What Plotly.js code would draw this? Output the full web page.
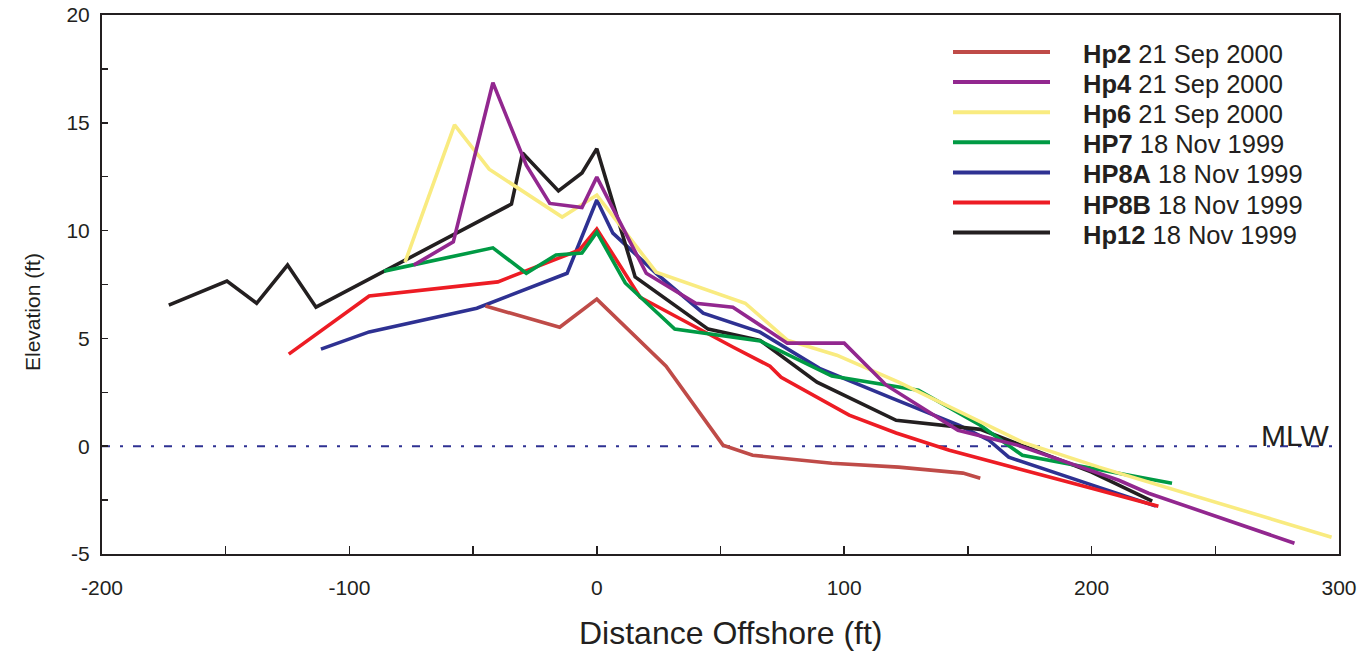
<!DOCTYPE html>
<html>
<head>
<meta charset="utf-8">
<script src="https://cdn.plot.ly/plotly-3.0.1.min.js"></script>
<style>
html,body{margin:0;padding:0;background:#fff;}
#chart{width:1362px;height:656px;}
</style>
</head>
<body>
<div id="chart"></div>
<script>
// ---- Data ----
const seriesNames = ["Hp2", "Hp4", "Hp6", "HP7", "HP8A", "HP8B", "Hp12"];
const seriesDates = ["21 Sep 2000", "21 Sep 2000", "21 Sep 2000", "18 Nov 1999", "18 Nov 1999", "18 Nov 1999", "18 Nov 1999"];

const hp2X = [-45, -15, 0, 28, 51, 63, 95, 122, 148, 155];
const hp2Y = [6.5, 5.52, 6.82, 3.71, 0.05, -0.42, -0.79, -0.97, -1.25, -1.49];

const hp4X = [-74, -58, -42, -28.5, -19, -6, 0, 20, 40, 55, 77, 100, 117, 146, 170, 211, 223, 282];
const hp4Y = [8.4, 9.48, 16.86, 13.03, 11.26, 11.07, 12.48, 8.02, 6.63, 6.45, 4.78, 4.78, 2.83, 0.74, 0.05, -1.58, -2.18, -4.5];

const hp6X = [-77.5, -57.5, -43.5, -14, 0, 24, 60, 77, 97, 122, 172, 203, 297];
const hp6Y = [8.54, 14.9, 12.85, 10.63, 11.65, 8.07, 6.63, 4.92, 4.22, 2.97, 0.19, -0.97, -4.22];

const hp7X = [-86, -42, -28.5, -16.5, -6, 0, 11.5, 31.5, 66, 95, 130, 155, 172, 198, 232.5];
const hp7Y = [8.12, 9.2, 8.02, 8.87, 8.96, 9.93, 7.57, 5.43, 4.88, 3.25, 2.6, 0.97, -0.42, -0.97, -1.72];

const hp8aX = [-111.5, -92, -48.5, -12, 0, 6.5, 24, 43, 66, 90, 119.5, 146.5, 158.5, 166.5, 203, 226];
const hp8aY = [4.5, 5.3, 6.4, 8.02, 11.42, 9.88, 8.02, 6.17, 5.29, 3.61, 2.22, 0.97, 0.28, -0.51, -1.91, -2.78];

const hp8bX = [-124.5, -92, -40, -29, -7, 0, 17.5, 55, 70, 74.5, 102, 121, 142.5, 200, 227];
const hp8bY = [4.27, 6.97, 7.62, 8.12, 9.1, 10.07, 6.91, 4.6, 3.71, 3.2, 1.44, 0.61, -0.19, -1.95, -2.78];

const hp12X = [-173, -149.5, -137.5, -125, -113.5, -34.5, -30, -15.5, -6, 0, 15.5, 45, 66, 89, 121, 155, 200, 224.5];
const hp12Y = [6.54, 7.66, 6.63, 8.4, 6.45, 11.23, 13.6, 11.84, 12.67, 13.8, 7.85, 5.43, 4.91, 2.97, 1.2, 0.78, -1.2, -2.55];

const mlwLevel = 0;
const mlwLabel = "MLW";
const xTitle = "Distance Offshore (ft)";
const yTitle = "Elevation (ft)";
const xTickVals = [-200, -100, 0, 100, 200, 300];
const yTickVals = [-5, 0, 5, 10, 15, 20];

// ---- Styles ----
const colors = ["#bf4b48", "#92278f", "#f9eb80", "#009a44", "#2e3192", "#ed1c24", "#231f20"];
const seriesX = [hp2X, hp4X, hp6X, hp7X, hp8aX, hp8bX, hp12X];
const seriesY = [hp2Y, hp4Y, hp6Y, hp7Y, hp8aY, hp8bY, hp12Y];
const drawOrder = [4, 6, 5, 3, 2, 1, 0];
const FONT = "Liberation Sans, Arial, Helvetica, sans-serif";
const ink = "#231f20";

const traces = drawOrder.map(i => ({
  type: "scatter", mode: "lines",
  x: seriesX[i], y: seriesY[i],
  name: seriesNames[i] + " " + seriesDates[i],
  line: {color: colors[i], width: 3.6},
  showlegend: false, hoverinfo: "x+y+name"
}));

// Layout placement in pixels -> paper
const W = 1362, H = 656, ML = 102, MR = 23, MT = 15, MB = 102;
const PW = W - ML - MR, PH = H - MT - MB;
const px2paperX = p => (p - ML) / PW;
const px2paperY = p => (H - MB - p) / PH;
const legendTopPx = 52, legendRowStep = 30.1;

const shapes = [{
  type: "line", xref: "paper", yref: "y", x0: 0, x1: 1, y0: mlwLevel, y1: mlwLevel,
  line: {color: "#2e3192", width: 2, dash: "8px,10px,3px,10px"}, layer: "below"
}];
const annotations = [
  {xref: "paper", yref: "y", x: px2paperX(1331), y: mlwLevel, xanchor: "right", yanchor: "bottom",
   yshift: -8, text: mlwLabel, showarrow: false, font: {family: FONT, size: 30, color: ink}},
  {xref: "paper", yref: "paper", x: px2paperX(731), y: px2paperY(633), xanchor: "center", yanchor: "middle",
   text: xTitle, showarrow: false, font: {family: FONT, size: 32, color: ink}},
  {xref: "paper", yref: "paper", x: px2paperX(33), y: px2paperY(312), xanchor: "center", yanchor: "middle",
   textangle: -90, text: yTitle, showarrow: false, font: {family: FONT, size: 21, color: ink}}
];
seriesNames.forEach((n, i) => {
  const yy = px2paperY(legendTopPx + i * legendRowStep);
  shapes.push({type: "line", xref: "paper", yref: "paper",
    x0: px2paperX(953), x1: px2paperX(1050), y0: yy, y1: yy,
    line: {color: colors[i], width: 4}});
  annotations.push({xref: "paper", yref: "paper", x: px2paperX(1081), y: yy, yshift: -2,
    xanchor: "left", yanchor: "middle", showarrow: false,
    text: "<b>" + n + "</b> " + seriesDates[i],
    font: {family: FONT, size: 25.5, color: ink}});
});

const layout = {
  width: W, height: H,
  margin: {l: ML, r: MR, t: MT, b: MB, pad: 0},
  paper_bgcolor: "#fff", plot_bgcolor: "#fff",
  showlegend: false,
  font: {family: FONT, color: ink},
  xaxis: {
    range: [-200, 300], tickvals: xTickVals, ticktext: xTickVals.map(String),
    showgrid: false, zeroline: false, showline: true, mirror: true,
    linecolor: ink, linewidth: 2,
    ticks: "inside", ticklen: 8, tickwidth: 1.5, tickcolor: ink,
    minor: {dtick: 50, tick0: 0, ticks: "inside", ticklen: 8, tickwidth: 1.5, tickcolor: ink, showgrid: false},
    tickfont: {family: FONT, size: 21, color: ink},
    ticklabelstandoff: 14,
    automargin: false, fixedrange: true
  },
  yaxis: {
    range: [-5, 20], tickvals: yTickVals, ticktext: yTickVals.map(String),
    showgrid: false, zeroline: false, showline: true, mirror: true,
    linecolor: ink, linewidth: 2,
    ticks: "inside", ticklen: 6, tickwidth: 1.5, tickcolor: ink,
    minor: {dtick: 2.5, tick0: 0, ticks: "inside", ticklen: 6, tickwidth: 1.5, tickcolor: ink, showgrid: false},
    tickfont: {family: FONT, size: 21, color: ink},
    ticklabelstandoff: 6,
    automargin: false, fixedrange: true
  },
  shapes: shapes,
  annotations: annotations
};

Plotly.newPlot("chart", traces, layout, {displayModeBar: false, staticPlot: true});
</script>
</body>
</html>
